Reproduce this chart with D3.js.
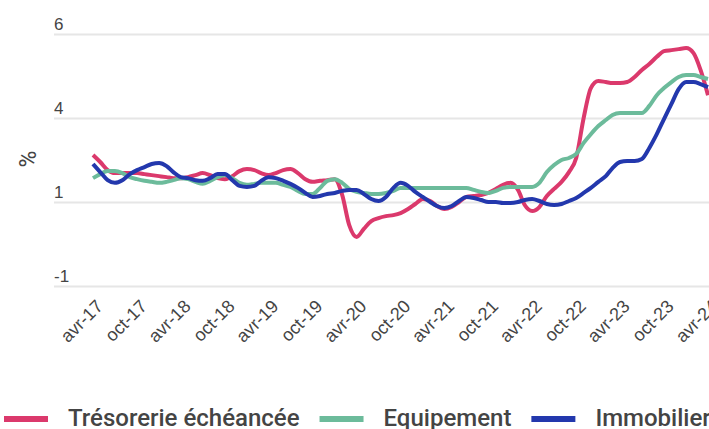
<!DOCTYPE html>
<html>
<head>
<meta charset="utf-8">
<script src="https://cdn.jsdelivr.net/npm/d3@7"></script>
<style>
  body { margin: 0; background: #fff; }
  svg { display: block; font-family: Roboto, "Noto Sans", sans-serif; }
</style>
</head>
<body>
<div id="chart"></div>
<script>
// Monthly series, avr-17 .. avr-24 (85 points, %)
const tresorerie = [
  2.65, 2.44, 2.20, 2.11, 2.11, 2.11, 2.11, 2.08, 2.05, 2.02, 1.99, 1.96,
  1.96, 1.99, 2.05, 2.11, 2.05, 1.96, 1.93, 2.02, 2.17, 2.23, 2.20, 2.11,
  2.05, 2.11, 2.20, 2.23, 2.11, 1.93, 1.85, 1.88, 1.90, 1.93, 1.46, 0.57,
  0.21, 0.45, 0.68, 0.77, 0.83, 0.86, 0.92, 1.04, 1.19, 1.34, 1.28, 1.13,
  1.04, 1.10, 1.25, 1.40, 1.43, 1.46, 1.52, 1.64, 1.76, 1.82, 1.61, 1.16,
  0.98, 1.10, 1.43, 1.64, 1.85, 2.14, 2.56, 3.75, 4.64, 4.85, 4.82, 4.79,
  4.79, 4.82, 4.97, 5.18, 5.36, 5.57, 5.74, 5.77, 5.80, 5.83, 5.68, 5.18,
  4.43
];
const equipement = [
  1.96, 2.08, 2.17, 2.17, 2.11, 1.99, 1.93, 1.88, 1.85, 1.82, 1.85, 1.90,
  1.96, 1.93, 1.85, 1.79, 1.88, 1.99, 2.05, 1.96, 1.82, 1.76, 1.79, 1.82,
  1.82, 1.82, 1.76, 1.70, 1.58, 1.49, 1.49, 1.67, 1.88, 1.93, 1.82, 1.64,
  1.55, 1.52, 1.49, 1.49, 1.52, 1.58, 1.67, 1.67, 1.67, 1.67, 1.67, 1.67,
  1.67, 1.67, 1.67, 1.67, 1.61, 1.55, 1.52, 1.58, 1.67, 1.70, 1.70, 1.70,
  1.70, 1.82, 2.14, 2.35, 2.50, 2.56, 2.68, 3.01, 3.27, 3.51, 3.69, 3.84,
  3.90, 3.90, 3.90, 3.90, 4.11, 4.43, 4.64, 4.82, 4.97, 5.03, 5.03, 4.97,
  4.91
];
const immobilier = [
  2.38, 2.14, 1.90, 1.82, 1.90, 2.08, 2.20, 2.29, 2.38, 2.41, 2.32, 2.14,
  1.99, 1.96, 1.90, 1.88, 1.96, 2.08, 2.08, 1.90, 1.73, 1.70, 1.73, 1.88,
  1.99, 1.96, 1.88, 1.79, 1.67, 1.52, 1.40, 1.43, 1.49, 1.52, 1.58, 1.61,
  1.61, 1.49, 1.34, 1.28, 1.40, 1.67, 1.82, 1.73, 1.55, 1.40, 1.25, 1.13,
  1.07, 1.13, 1.28, 1.40, 1.37, 1.31, 1.25, 1.25, 1.22, 1.22, 1.25, 1.31,
  1.34, 1.28, 1.19, 1.16, 1.19, 1.28, 1.37, 1.52, 1.67, 1.85, 2.02, 2.26,
  2.44, 2.47, 2.47, 2.53, 2.86, 3.27, 3.72, 4.17, 4.61, 4.82, 4.82, 4.76,
  4.67
];

const seriesNames = ["Trésorerie échéancée", "Equipement", "Immobilier"];
const seriesColors = ["#db396c", "#6cbb9b", "#2338ad"];

const xTickLabels = ["avr-17", "oct-17", "avr-18", "oct-18", "avr-19", "oct-19", "avr-20",
  "oct-20", "avr-21", "oct-21", "avr-22", "oct-22", "avr-23", "oct-23", "avr-24"];
const yTickValues = [-1.25, 1.25, 3.75, 6.25];
const yTickLabels = ["-1", "1", "4", "6"];

const width = 709, height = 429;
const margin = { top: 34, right: 1, bottom: 143, left: 93 };

const start = new Date(2017, 3, 1);
const months = tresorerie.map((d, i) => d3.timeMonth.offset(start, i));
const tickDates = xTickLabels.map((d, i) => d3.timeMonth.offset(start, 6 * i));

const svg = d3.select("#chart")
  .append("svg")
  .attr("width", width)
  .attr("height", height);

const x = d3.scaleTime()
  .domain([months[0], months[months.length - 1]])
  .range([margin.left, width - margin.right]);

const y = d3.scaleLinear()
  .domain([yTickValues[0], yTickValues[yTickValues.length - 1]])
  .range([height - margin.bottom, margin.top]);

// Grid lines + y labels
const yAxis = svg.append("g")
  .attr("transform", "translate(54,0)")
  .call(d3.axisRight(y)
    .tickValues(yTickValues)
    .tickSize(width - 54)
    .tickFormat((d, i) => yTickLabels[i]));
yAxis.select(".domain").remove();
yAxis.selectAll(".tick line").attr("stroke", "#e6e6e6").attr("stroke-width", 2);
yAxis.selectAll(".tick text")
  .attr("x", 0)
  .attr("dy", -5)
  .attr("text-anchor", "start")
  .attr("fill", "#444")
  .style("font-size", "17px");

svg.append("text")
  .attr("transform", "translate(36,159) rotate(-90)")
  .attr("text-anchor", "middle")
  .attr("fill", "#444")
  .style("font-size", "23px")
  .text("%");

// X axis labels
const xAxis = svg.append("g")
  .attr("transform", `translate(0,${y(yTickValues[0])})`)
  .call(d3.axisBottom(x)
    .tickValues(tickDates)
    .tickSize(0)
    .tickFormat((d, i) => xTickLabels[i]));
xAxis.select(".domain").remove();
xAxis.selectAll(".tick text")
  .attr("text-anchor", "end")
  .attr("transform", "translate(6,17) rotate(-45)")
  .attr("dy", "0.35em")
  .attr("y", 0)
  .attr("fill", "#444")
  .style("font-size", "18px");

// Lines
const allSeries = [tresorerie, equipement, immobilier];
const line = d3.line()
  .x((d, i) => x(months[i]))
  .y(d => y(d))
  .curve(d3.curveMonotoneX);

svg.selectAll(".series")
  .data(allSeries)
  .join("path")
  .attr("class", "series")
  .attr("d", d => line(d))
  .attr("fill", "none")
  .attr("stroke", (d, i) => seriesColors[i])
  .attr("stroke-width", 4)
  .attr("stroke-linejoin", "round");

// Legend
const legend = svg.append("g").attr("transform", "translate(4,419)");
let lx = 0;
seriesNames.forEach((name, i) => {
  legend.append("rect")
    .attr("x", lx).attr("y", -3)
    .attr("width", 44).attr("height", 6)
    .attr("fill", seriesColors[i]);
  const t = legend.append("text")
    .attr("x", lx + 64).attr("y", 7)
    .attr("fill", "#444")
    .style("font-size", "24px")
    .style("font-weight", 500)
    .text(name);
  lx += 64 + t.node().getComputedTextLength() + 20;
});
</script>
</body>
</html>
